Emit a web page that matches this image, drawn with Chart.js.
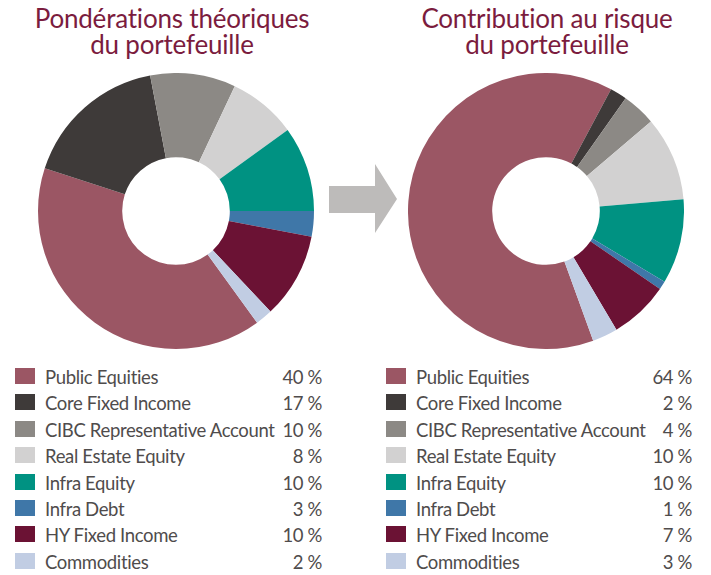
<!DOCTYPE html>
<html>
<head>
<meta charset="utf-8">
<script src="https://cdn.jsdelivr.net/npm/chart.js@4.4.1/dist/chart.umd.min.js"></script>
<style>
  body { margin: 0; background: #fff; font-family: Lato, "Open Sans", sans-serif; }
  #page { position: relative; width: 711px; height: 575px; overflow: hidden; }
  .title { position: absolute; top: 5px; width: 340px; text-align: center; color: #7b1c3e;
           font-size: 26px; line-height: 26px; letter-spacing: -0.2px; }
  .chartBox { position: absolute; top: 73px; width: 276px; height: 276px; }
  .legend { position: absolute; top: 364px; font-size: 18.5px; color: #4f4c4c; letter-spacing: -0.35px; }
  .legend .row { position: relative; height: 26.4px; line-height: 26px; }
  .legend .sw { position: absolute; left: 0; top: 4px; width: 20px; height: 16px; }
  .legend .lbl { position: absolute; left: 30px; top: 0; white-space: nowrap; }
  .legend .val { position: absolute; right: 0; top: 0; white-space: nowrap; }
  #arrow { position: absolute; left: 329px; top: 164px; }
</style>
</head>
<body>
<div id="page">
  <div class="title" style="left:2px">Pondérations théoriques<br>du portefeuille</div>
  <div class="title" style="left:377px">Contribution au risque<br>du portefeuille</div>

  <div class="chartBox" style="left:38px"><canvas id="weightsChart"></canvas></div>
  <div class="chartBox" style="left:408px"><canvas id="riskChart"></canvas></div>

  <svg id="arrow" width="70" height="70">
    <polygon points="0,22 46,22 46,0 68,35 46,69 46,49 0,49" fill="#bdbbba"/>
  </svg>

  <div class="legend" id="weightsLegend" style="left:15px; width:307px"></div>
  <div class="legend" id="riskLegend" style="left:386px; width:306px"></div>
</div>

<script>
// Catégories (ordre du graphique et de la légende)
const categories = [
    'Public Equities',
    'Core Fixed Income',
    'CIBC Representative Account',
    'Real Estate Equity',
    'Infra Equity',
    'Infra Debt',
    'HY Fixed Income',
    'Commodities'
];

// Pondérations théoriques (%)
const weightValues = [40, 17, 10, 8, 10, 3, 10, 2];

// Contribution au risque (%)
const riskValues = [64, 2, 4, 10, 10, 1, 7, 3];

const sliceColors = ['#9b5664', '#3e3a39', '#8c8985', '#d2d1d1', '#009282', '#3f77a8', '#6b1234', '#c1cde3'];

// Crée un graphique en anneau
function makeDoughnut(canvasId, values, rotation) {
    const ctx = document.getElementById(canvasId).getContext('2d');
    return new Chart(ctx, {
        type: 'doughnut',
        data: {
            labels: categories,
            datasets: [{
                data: values,
                backgroundColor: sliceColors,
                borderWidth: 0
            }]
        },
        options: {
            responsive: true,
            maintainAspectRatio: false,
            animation: false,
            cutout: '39%',
            rotation: rotation,
            layout: { padding: 0 },
            plugins: {
                legend: { display: false },
                tooltip: { enabled: false }
            }
        }
    });
}

// Légende HTML avec valeurs
function buildLegend(containerId, values) {
    const box = document.getElementById(containerId);
    categories.forEach((name, i) => {
        const row = document.createElement('div');
        row.className = 'row';
        row.innerHTML = '<span class="sw" style="background:' + sliceColors[i] + '"></span>' +
                        '<span class="lbl">' + name + '</span>' +
                        '<span class="val">' + values[i] + ' %</span>';
        box.appendChild(row);
    });
}

makeDoughnut('weightsChart', weightValues, 144);
makeDoughnut('riskChart', riskValues, 160);
buildLegend('weightsLegend', weightValues);
buildLegend('riskLegend', riskValues);
</script>
</body>
</html>
